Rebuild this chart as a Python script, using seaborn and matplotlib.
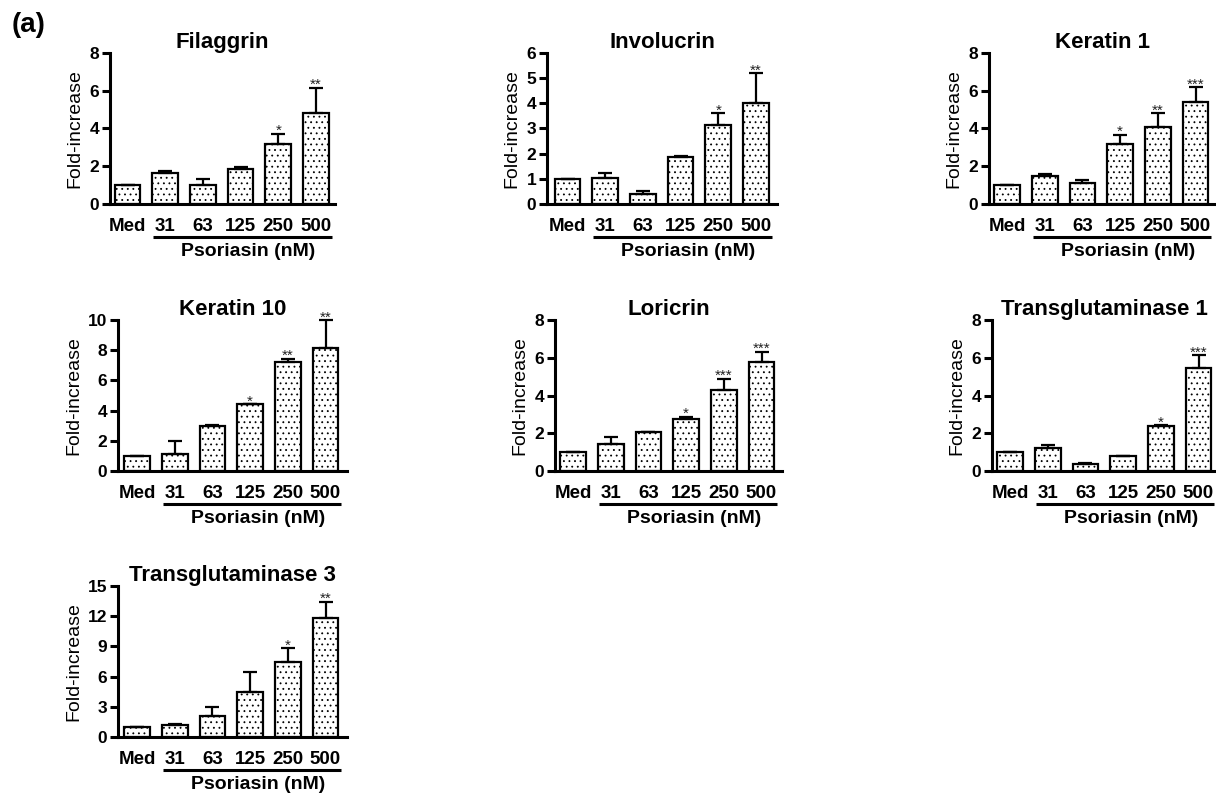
import numpy as np
import matplotlib
matplotlib.use("Agg")
import matplotlib.pyplot as plt
import matplotlib.transforms as mtransforms
import seaborn as sns

# x categories
doses = ["Med", "31", "63", "125", "250", "500"]

# mean fold-increase and upper error (SEM) per gene
filaggrin = [1.0, 1.64, 1.02, 1.88, 3.20, 4.84]
filaggrin_err = [0.0, 0.12, 0.30, 0.09, 0.53, 1.32]
filaggrin_sig = ["", "", "", "", "*", "**"]

involucrin = [1.0, 1.05, 0.40, 1.88, 3.13, 4.00]
involucrin_err = [0.0, 0.20, 0.10, 0.04, 0.47, 1.20]
involucrin_sig = ["", "", "", "", "*", "**"]

keratin1 = [1.0, 1.50, 1.13, 3.17, 4.10, 5.40]
keratin1_err = [0.0, 0.07, 0.12, 0.50, 0.72, 0.80]
keratin1_sig = ["", "", "", "*", "**", "***"]

keratin10 = [1.0, 1.10, 2.95, 4.43, 7.22, 8.15]
keratin10_err = [0.0, 0.90, 0.08, 0.0, 0.23, 1.85]
keratin10_sig = ["", "", "", "*", "**", "**"]

loricrin = [1.0, 1.42, 2.07, 2.75, 4.30, 5.80]
loricrin_err = [0.0, 0.40, 0.0, 0.13, 0.58, 0.53]
loricrin_sig = ["", "", "", "*", "***", "***"]

tgase1 = [1.0, 1.20, 0.35, 0.80, 2.36, 5.48]
tgase1_err = [0.0, 0.20, 0.05, 0.0, 0.06, 0.67]
tgase1_sig = ["", "", "", "", "*", "***"]

tgase3 = [1.0, 1.20, 2.05, 4.45, 7.45, 11.85]
tgase3_err = [0.0, 0.10, 0.90, 2.05, 1.40, 1.60]
tgase3_sig = ["", "", "", "", "*", "**"]

titles = ["Filaggrin", "Involucrin", "Keratin 1", "Keratin 10", "Loricrin",
          "Transglutaminase 1", "Transglutaminase 3"]
values = [filaggrin, involucrin, keratin1, keratin10, loricrin, tgase1, tgase3]
errors = [filaggrin_err, involucrin_err, keratin1_err, keratin10_err,
          loricrin_err, tgase1_err, tgase3_err]
signif = [filaggrin_sig, involucrin_sig, keratin1_sig, keratin10_sig,
          loricrin_sig, tgase1_sig, tgase3_sig]
ymax = [8, 6, 8, 10, 8, 8, 15]
ystep = [2, 1, 2, 2, 2, 2, 3]

W, H = 1216, 793
# axes boxes in pixels: left, right, top, bottom, x of the "Med" bar centre
boxes = [
    (110, 335, 53, 204, 127.5),
    (547, 777, 53, 204, 567.5),
    (989, 1216, 53, 204, 1007),
    (118, 347, 320, 471, 137),
    (555, 782, 320, 471, 573),
    (992, 1216, 320, 471, 1010),
    (118, 347, 586, 737, 137),
]
PX_PER_BAR = 37.7

sns.set_style("ticks")
plt.rcParams["font.family"] = ["Liberation Sans", "DejaVu Sans"]
plt.rcParams["hatch.linewidth"] = 0.6
for key in ["text.color", "axes.labelcolor", "xtick.color", "ytick.color"]:
    plt.rcParams[key] = "black"

fig = plt.figure(figsize=(W / 100, H / 100), dpi=100)

for k in range(len(titles)):
    l, r, t, b, med = boxes[k]
    ax = fig.add_axes([l / W, 1 - b / H, (r - l) / W, (b - t) / H])

    sns.barplot(x=doses, y=values[k], color="white", edgecolor="black",
                linewidth=1.6, width=0.68, hatch="...", saturation=1,
                errorbar=None, ax=ax, zorder=2)
    x = np.arange(len(doses))
    ax.errorbar(x, values[k], yerr=[np.zeros(len(doses)), errors[k]],
                fmt="none", ecolor="black", elinewidth=1.6, capsize=5,
                capthick=1.6, zorder=3, clip_on=False)

    for i, s in enumerate(signif[k]):
        if s:
            ax.annotate(s, (i, values[k][i] + errors[k][i]), xytext=(0, -1),
                        textcoords="offset points", ha="center", va="baseline",
                        fontsize=11, color="#222222", annotation_clip=False)

    ax.set_xlim((l - med) / PX_PER_BAR, (r - med) / PX_PER_BAR)
    ax.set_ylim(0, ymax[k])
    ax.set_yticks(np.arange(0, ymax[k] + 0.01, ystep[k]))

    for side in ["top", "right"]:
        ax.spines[side].set_visible(False)
    for side in ["left", "bottom"]:
        ax.spines[side].set_linewidth(2.2)
        ax.spines[side].set_color("black")

    ax.tick_params(axis="y", length=5.8, width=2.2, pad=2, labelsize=12.5)
    ax.tick_params(axis="x", length=0, pad=10, labelsize=13.5)
    for lab in ax.get_xticklabels() + ax.get_yticklabels():
        lab.set_fontweight("bold")

    ax.set_ylabel("Fold-increase", fontsize=14, labelpad=4)
    ax.set_xlabel("")
    ax.set_title(titles[k], fontsize=16, fontweight="bold", pad=3)

    trans = mtransforms.blended_transform_factory(ax.transData, ax.transAxes)
    ax.plot([0.68, 5.42], [-0.22, -0.22], color="black", lw=2.2,
            transform=trans, clip_on=False, solid_capstyle="butt")
    ax.text(3.2, -0.315, "Psoriasin (nM)", transform=trans, ha="center",
            va="center", fontsize=14, fontweight="bold")

fig.text(12 / W, 1 - 25 / H, "(a)", fontsize=20, fontweight="bold",
         ha="left", va="center")

fig.savefig("out.png", dpi=100)
